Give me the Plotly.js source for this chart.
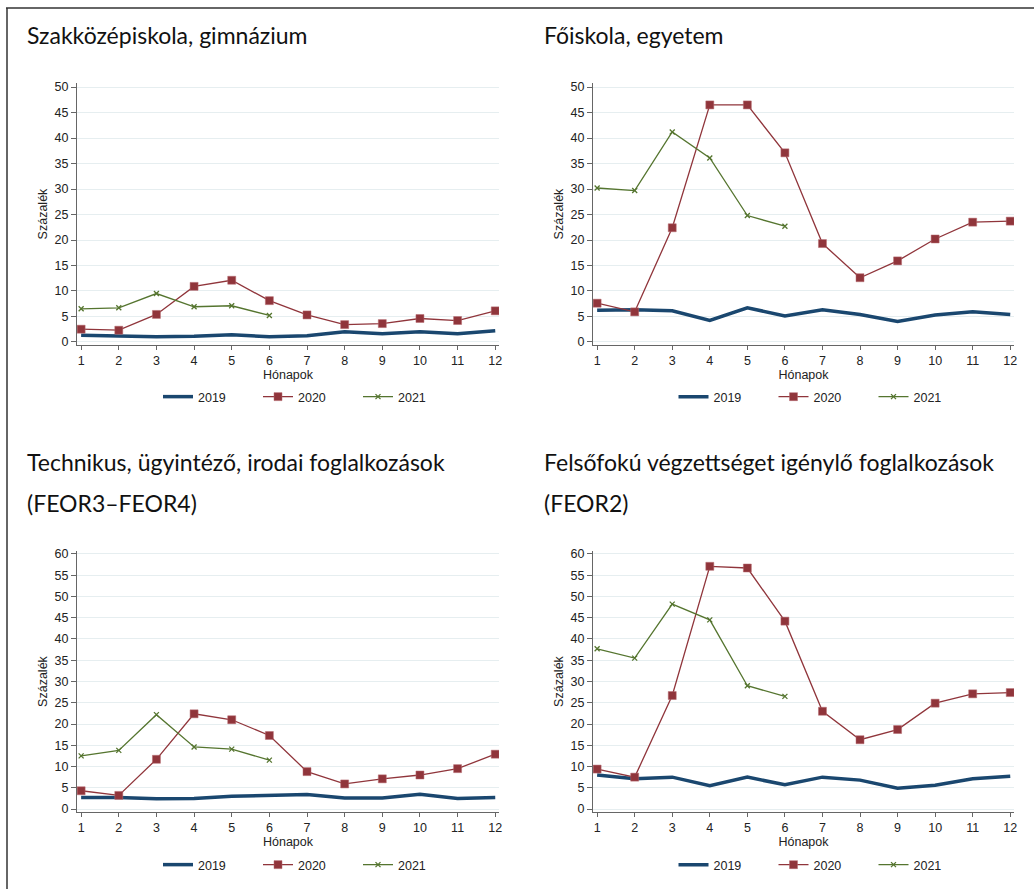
<!DOCTYPE html>
<html>
<head>
<meta charset="utf-8">
<script src="https://cdn.plot.ly/plotly-3.0.1.min.js"></script>
<style>html,body{margin:0;padding:0;background:#fff;}#chart{width:1034px;height:889px;}</style>
</head>
<body>
<div id="chart"></div>
<script>
// ---- data ----
const months = [1,2,3,4,5,6,7,8,9,10,11,12];
const months2021 = [1,2,3,4,5,6];
const seriesNames = ["2019","2020","2021"];
const panelTitles = [
  ["Szakközépiskola, gimnázium"],
  ["Főiskola, egyetem"],
  ["Technikus, ügyintéző, irodai foglalkozások","(FEOR3–FEOR4)"],
  ["Felsőfokú végzettséget igénylő foglalkozások","(FEOR2)"]
];
const xTitle = "Hónapok";
const yTitle = "Százalék";

// Panel 1: Szakközépiskola, gimnázium
const szak2019 = [1.3,1.2,1.0,1.1,1.4,1.0,1.2,2.0,1.6,2.0,1.6,2.2];
const szak2020 = [2.5,2.3,5.4,10.9,12.1,8.1,5.3,3.4,3.6,4.6,4.2,6.1];
const szak2021 = [6.5,6.7,9.5,6.9,7.1,5.2];
// Panel 2: Főiskola, egyetem
const foisk2019 = [6.2,6.3,6.1,4.2,6.7,5.1,6.3,5.4,4.0,5.3,5.9,5.4];
const foisk2020 = [7.6,5.9,22.4,46.5,46.5,37.1,19.3,12.6,15.9,20.2,23.5,23.7];
const foisk2021 = [30.2,29.7,41.2,36.1,24.8,22.7];
// Panel 3: FEOR3–FEOR4
const feor34_2019 = [2.7,2.7,2.4,2.5,3.0,3.1,3.4,2.6,2.6,3.5,2.5,2.7];
const feor34_2020 = [4.3,3.2,11.7,22.4,21.0,17.3,8.8,5.9,7.1,8.0,9.5,12.9];
const feor34_2021 = [12.5,13.8,22.2,14.6,14.1,11.5];
// Panel 4: FEOR2
const feor2_2019 = [8.0,7.1,7.5,5.5,7.5,5.7,7.5,6.8,4.9,5.6,7.1,7.7];
const feor2_2020 = [9.4,7.5,26.7,57.1,56.7,44.2,23.0,16.3,18.7,24.9,27.1,27.4];
const feor2_2021 = [37.7,35.5,48.2,44.5,29.0,26.5];

const panelData = [
  [szak2019, szak2020, szak2021],
  [foisk2019, foisk2020, foisk2021],
  [feor34_2019, feor34_2020, feor34_2021],
  [feor2_2019, feor2_2020, feor2_2021]
];
const yMax = [50, 50, 60, 60];

// ---- layout geometry (pixels) ----
const W = 1034, H = 889;
const px = v => v / W;
const py = v => 1 - v / H;
const plotX = [[77,499],[593,1014],[77,499],[593,1014]];
const plotY = [[83,345],[83,345],[551,812],[551,812]];
const titleX = [25, 542, 25, 542];
const titleY = [[35],[35],[462,503],[462,503]];
const legendY = [397, 397, 865, 865];
const legendShift = 20;

const C2019 = "#1a476f", C2020 = "#90353b", C2021 = "#55752f";
const tickFont = {family: "Liberation Sans, Arial, sans-serif", size: 12.5, color: "#222"};

const traces = [];
const layout = {
  width: W, height: H,
  margin: {l:0, r:0, t:0, b:0},
  paper_bgcolor: "#fff", plot_bgcolor: "#fff",
  showlegend: true,
  annotations: [], shapes: []
};

for (let p = 0; p < 4; p++) {
  const ax = p === 0 ? "" : String(p + 1);
  const xa = "x" + ax, ya = "y" + ax;
  const lg = p === 0 ? "legend" : "legend" + (p + 1);
  const d = panelData[p];
  traces.push({
    x: months, y: d[0], xaxis: xa, yaxis: ya, legend: lg, name: seriesNames[0],
    type: "scatter", mode: "lines", line: {color: C2019, width: 3.5}
  });
  traces.push({
    x: months, y: d[1], xaxis: xa, yaxis: ya, legend: lg, name: seriesNames[1],
    type: "scatter", mode: "lines+markers",
    line: {color: C2020, width: 1.3},
    marker: {symbol: "square", size: 8, color: C2020, line: {color: "#b76a70", width: 0.5}}
  });
  traces.push({
    x: months2021, y: d[2], xaxis: xa, yaxis: ya, legend: lg, name: seriesNames[2],
    type: "scatter", mode: "lines+markers",
    line: {color: C2021, width: 1.3},
    marker: {symbol: "x-thin", size: 5, color: C2021, line: {color: C2021, width: 1.3}}
  });

  const ymax = yMax[p];
  const pad = ymax === 50 ? [-0.6, 50.8] : [-0.7, 60.7];
  layout["xaxis" + ax] = {
    domain: [px(plotX[p][0]), px(plotX[p][1])],
    anchor: ya, range: [0.89, 12.1],
    tickmode: "array", tickvals: months,
    showgrid: false, zeroline: false,
    showline: true, linecolor: "#666", linewidth: 1,
    ticks: "outside", ticklen: 4, tickcolor: "#666", tickwidth: 1,
    tickfont: tickFont,
    title: {text: xTitle, font: {family: "Liberation Sans, Arial, sans-serif", size: 12.5, color: "#222"}, standoff: 0},
    automargin: false, fixedrange: true
  };
  const tv = [];
  for (let v = 0; v <= ymax; v += 5) tv.push(v);
  layout["yaxis" + ax] = {
    domain: [py(plotY[p][1]), py(plotY[p][0])],
    anchor: xa, range: pad,
    tickmode: "array", tickvals: tv,
    showgrid: true, gridcolor: "#e6eef0", gridwidth: 1,
    zeroline: false,
    showline: true, linecolor: "#666", linewidth: 1,
    ticks: "outside", ticklen: 5, tickcolor: "#666", tickwidth: 1,
    tickfont: tickFont,
    title: {text: yTitle, font: {family: "Liberation Sans, Arial, sans-serif", size: 12.5, color: "#222"}, standoff: 4},
    automargin: false, fixedrange: true
  };
  layout[lg] = {
    orientation: "h",
    x: px((plotX[p][0] + plotX[p][1]) / 2 + legendShift), xanchor: "center",
    y: py(legendY[p]), yanchor: "middle",
    font: {family: "Liberation Sans, Arial, sans-serif", size: 12.5, color: "#222"},
    bgcolor: "rgba(0,0,0,0)", itemclick: false, itemdoubleclick: false,
    traceorder: "normal", entrywidth: 55, entrywidthmode: "pixels"
  };
  panelTitles[p].forEach((t, i) => {
    layout.annotations.push({
      text: t, xref: "paper", yref: "paper",
      x: px(titleX[p]), y: py(titleY[p][i]),
      xanchor: "left", yanchor: "middle", showarrow: false,
      font: {family: "Lato, 'Open Sans', sans-serif", size: 23, color: "#111"}
    });
  });
}

// frame lines of the original figure
layout.shapes.push({type: "line", xref: "paper", yref: "paper", x0: px(6), x1: 1, y0: py(8), y1: py(8), line: {color: "#666", width: 2}});
layout.shapes.push({type: "line", xref: "paper", yref: "paper", x0: px(7), x1: px(7), y0: py(8), y1: 0, line: {color: "#333", width: 1.5}});

Plotly.newPlot("chart", traces, layout, {displayModeBar: false, staticPlot: true});
</script>
</body>
</html>
